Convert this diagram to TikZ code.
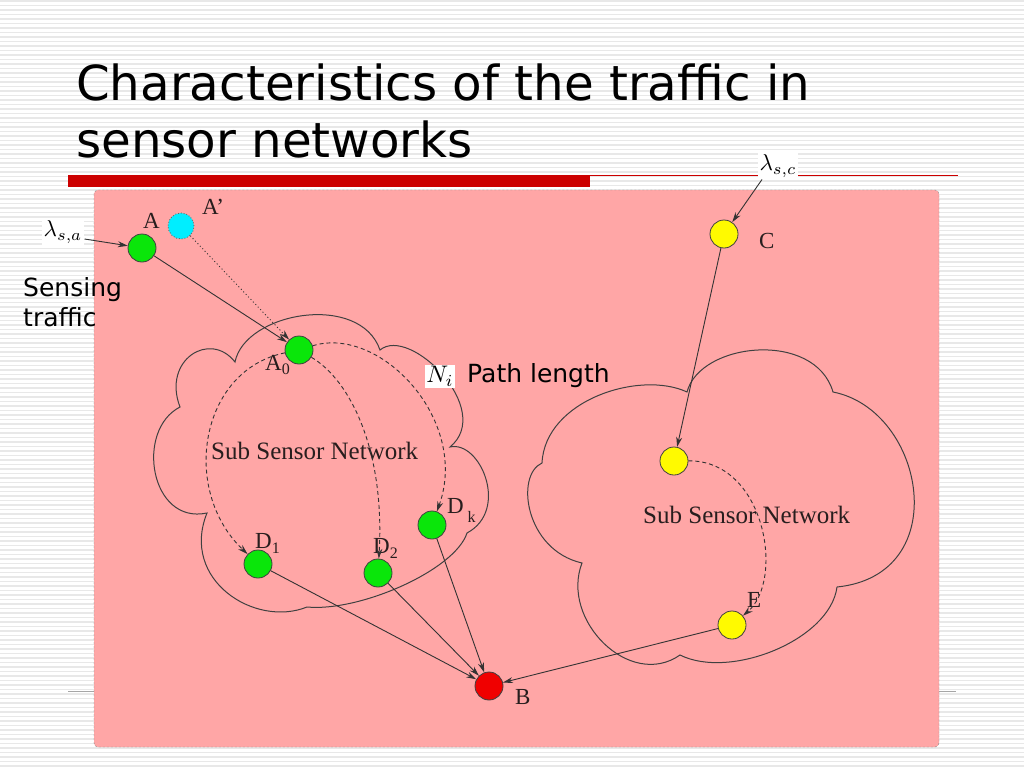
\documentclass[tikz,border=0pt]{standalone}
\usepackage{graphicx}
\usepackage{fontspec}
\setmainfont{Liberation Serif}
\newfontfamily\slidefont{DejaVu Sans}
\usetikzlibrary{arrows.meta}
\definecolor{pinkbg}{RGB}{255,166,166}
\definecolor{titlered}{RGB}{204,0,0}
\definecolor{ngreen}{RGB}{10,230,10}
\definecolor{ncyan}{RGB}{0,238,255}
\definecolor{nyellow}{RGB}{255,250,0}
\definecolor{nred}{RGB}{240,0,0}
\definecolor{inkc}{RGB}{40,30,30}
\tikzset{
  stripe/.style={draw=black!9, line width=1.2pt},
  sensor/.style={circle, minimum size=28pt, inner sep=0pt, draw=black!75, line width=0.8pt},
  lbl/.style={anchor=base west, inner sep=0pt, text=inkc, font=\fontsize{23}{26}\selectfont},
  netlbl/.style={anchor=base west, inner sep=0pt, text=inkc, font=\fontsize{25}{28}\selectfont},
  mathlbl/.style={fill=white, inner sep=2pt},
  slidetxt/.style={anchor=base west, inner sep=0pt, font=\slidefont\fontsize{25}{30}\selectfont},
  conn/.style={draw=black!80, line width=0.9pt, -{Stealth[length=10pt,width=6pt]}},
  dconn/.style={conn, dash pattern=on 4pt off 3pt},
  pconn/.style={conn, dash pattern=on 1pt off 2.5pt},
  cloud/.style={draw=black!75, line width=1pt}
}
\begin{document}
\begin{tikzpicture}[x=1pt,y=-1pt]
\useasboundingbox (0,0) rectangle (1024,768);
\fill[white] (0,0) rectangle (1024,768);
\foreach \i in {0,...,171} \draw[stripe] (0,\i*4.5+1) -- (1024,\i*4.5+1);
% title
\node[anchor=base west, inner sep=0pt, font=\slidefont\fontsize{48.3}{56}\selectfont] (t1) at (76,100) {Characteristics of the traffic in};
\node[anchor=base west, inner sep=0pt, font=\slidefont\fontsize{48.3}{56}\selectfont] (t2) at (76,157) {sensor networks};
\fill[titlered] (68,175) rectangle (590,187);
\draw[titlered, line width=1pt] (590,175.5) -- (958,175.5);
\draw[black!35, line width=0.8pt] (68,691) -- (956,691);
% panel
\draw[fill=pinkbg, draw=black!45, dash pattern=on 2pt off 2pt, rounded corners=4pt] (94,190) rectangle (939,747);
% clouds
\draw[cloud] (180,407) .. controls (162,360) and (210,330) .. (235,362)
  .. controls (245,312) and (360,292) .. (380,350)
  .. controls (410,325) and (495,410) .. (450,447)
  .. controls (480,440) and (510,510) .. (467,533)
  .. controls (455,570) and (360,612) .. (307,607)
  .. controls (255,628) and (180,580) .. (207,513)
  .. controls (150,525) and (135,430) .. cycle;
\draw[cloud] (687,392) .. controls (700,342) and (815,330) .. (833,392)
  .. controls (925,410) and (955,575) .. (837,587)
  .. controls (830,640) and (730,680) .. (680,655)
  .. controls (630,690) and (560,620) .. (582,563)
  .. controls (525,550) and (515,475) .. (542,463)
  .. controls (545,400) and (640,370) .. cycle;
\node[netlbl] (n1) at (211,459) {Sub Sensor Network};
\node[netlbl] (n2) at (643,523) {Sub Sensor Network};
% nodes
\node[sensor, fill=ngreen] (A) at (142,248) {};
\node[sensor, fill=ncyan, minimum size=26pt, draw=black!60, dotted, line width=0.9pt] (Ap) at (181,226) {};
\node[sensor, fill=ngreen] (A0) at (299,350) {};
\node[sensor, fill=ngreen] (D1) at (258,564) {};
\node[sensor, fill=ngreen] (D2) at (378,573) {};
\node[sensor, fill=ngreen] (Dk) at (432,525) {};
\node[sensor, fill=nred] (B) at (489,686) {};
\node[sensor, fill=nyellow] (C) at (724,234) {};
\node[sensor, fill=nyellow] (F) at (674,461) {};
\node[sensor, fill=nyellow] (E) at (732,625) {};
% labels
\node[lbl] (lA) at (143,228) {A};
\node[lbl] (lAp) at (202,214) {A’};
\node[lbl] (lA0) at (265,370) {A\raisebox{-4pt}{\fontsize{16}{16}\selectfont 0}};
\node[lbl] (lD1) at (255,548) {D\raisebox{-5pt}{\fontsize{16}{16}\selectfont 1}};
\node[lbl] (lD2) at (373,553) {D\raisebox{-5pt}{\fontsize{16}{16}\selectfont 2}};
\node[lbl] (lDk) at (447,513) {D\,\raisebox{-9pt}{\fontsize{16}{16}\selectfont k}};
\node[lbl] (lB) at (515,704) {B};
\node[lbl] (lC) at (759,248) {C};
\node[lbl] (lE) at (747,607) {E};
\node[mathlbl] (lsa) at (63,232) {\scalebox{2.3}{$\lambda_{s,a}$}};
\node[mathlbl] (lsc) at (778,166) {\scalebox{2.3}{$\lambda_{s,c}$}};
\node[mathlbl, inner sep=1.5pt] (Ni) at (440,376) {\scalebox{2.4}{$N_i$}};
\node[slidetxt] (pl) at (467,382) {Path length};
\node[slidetxt] (s1) at (23,296) {Sensing};
\node[slidetxt] (s2) at (23,326) {traffic};
% connectors
\draw[conn] ([yshift=-7pt]lsa.east) -- (A);
\draw[conn] ([xshift=-16pt]lsc.south) -- (C);
\draw[conn] (A) -- (A0);
\draw[pconn] (Ap) -- (A0);
\draw[dconn] (A0) .. controls (200,370) and (180,490) .. (D1);
\draw[dconn] (A0) .. controls (350,380) and (385,450) .. (D2);
\draw[dconn] (A0) .. controls (380,325) and (470,420) .. (Dk);
\draw[conn] (D1) -- (B);
\draw[conn] (D2) -- (B);
\draw[conn] (Dk) -- (B);
\draw[conn] (E) -- (B);
\draw[conn] (C) -- (F);
\draw[dconn] (F) .. controls (765,460) and (785,580) .. (E);
\end{tikzpicture}
\end{document}
